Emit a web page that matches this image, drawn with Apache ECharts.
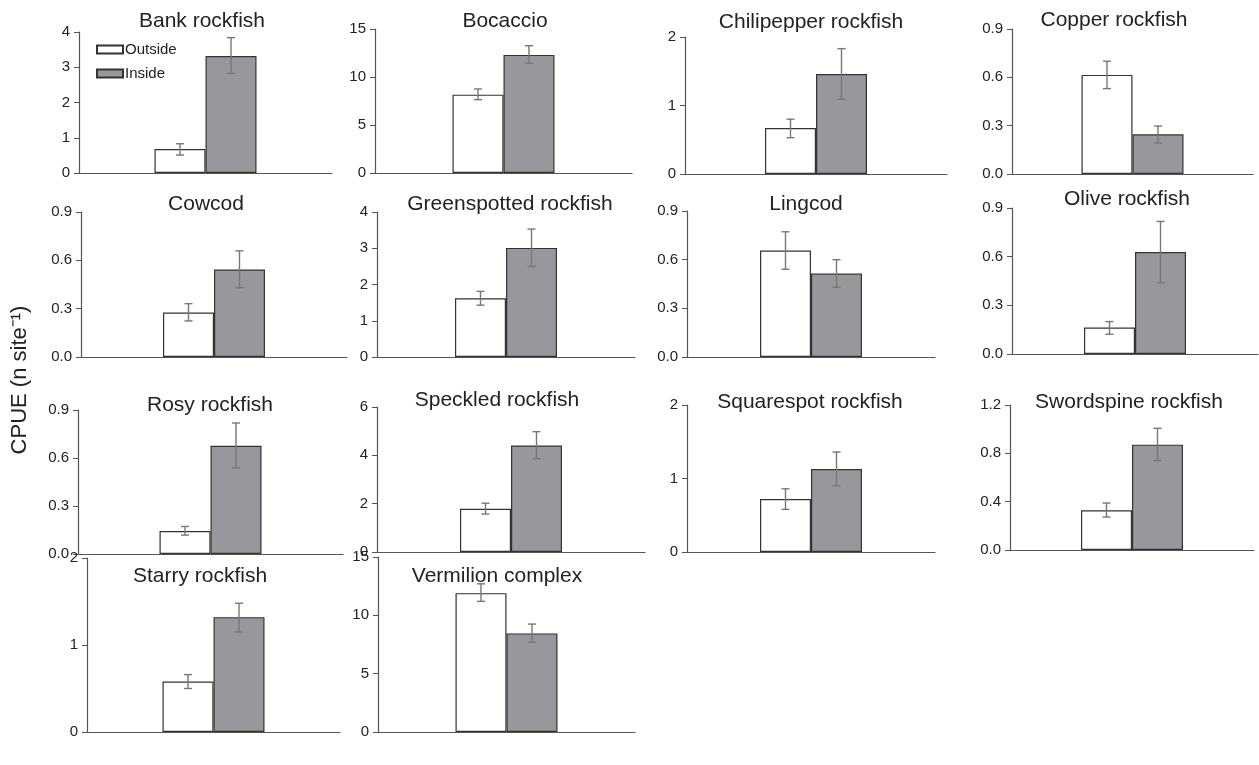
<!DOCTYPE html>
<html><head><meta charset="utf-8">
<script src="https://cdn.jsdelivr.net/npm/echarts@6/dist/echarts.min.js"></script>
<style>html,body{margin:0;padding:0;background:#fff}#c{width:1259px;height:765px}</style>
</head><body><div id="c"></div>
<script>
// ---- data ----
const species = ["Bank rockfish","Bocaccio","Chilipepper rockfish","Copper rockfish",
  "Cowcod","Greenspotted rockfish","Lingcod","Olive rockfish",
  "Rosy rockfish","Speckled rockfish","Squarespot rockfish","Swordspine rockfish",
  "Starry rockfish","Vermilion complex"];
const outsideMean = [0.68, 8.16, 0.67, 0.615, 0.276, 1.62, 0.656, 0.163, 0.143, 1.79, 0.72, 0.328, 0.58, 11.9];
const outsideLow  = [0.51, 7.64, 0.53, 0.53, 0.224, 1.43, 0.541, 0.122, 0.118, 1.57, 0.58, 0.273, 0.50, 11.2];
const outsideHigh = [0.83, 8.75, 0.80, 0.70, 0.331, 1.81, 0.772, 0.20, 0.172, 2.02, 0.86, 0.389, 0.66, 12.7];
const insideMean  = [3.32, 12.3, 1.46, 0.246, 0.543, 3.01, 0.514, 0.628, 0.677, 4.41, 1.13, 0.872, 1.32, 8.45];
const insideLow   = [2.83, 11.43, 1.09, 0.192, 0.43, 2.50, 0.43, 0.439, 0.538, 3.86, 0.90, 0.739, 1.15, 7.7];
const insideHigh  = [3.84, 13.26, 1.83, 0.298, 0.659, 3.53, 0.60, 0.817, 0.819, 4.98, 1.36, 1.007, 1.48, 9.25];
const yMax      = [4, 15, 2, 0.9, 0.9, 4, 0.9, 0.9, 0.9, 6, 2, 1.2, 2, 15];
const yInterval = [1, 5, 1, 0.3, 0.3, 1, 0.3, 0.3, 0.3, 2, 1, 0.4, 1, 5];
const yDecimals = [0, 0, 0, 1, 1, 0, 1, 1, 1, 0, 0, 1, 0, 0];
const groups = ["Outside", "Inside"];
const yTitle = "CPUE (n site\u207B\u00B9)";

// ---- layout (pixels): grid left, top, width, height, title centre x, title top ----
const layout = [
  [79, 32, 253, 141, 202, 11], [375, 29, 257, 144, 505, 11], [685, 37, 262, 137, 811, 12], [1012, 29, 241, 145, 1114, 10],
  [81, 212, 266, 145, 206, 194], [377, 212, 258, 145, 510, 194], [687, 211, 248, 146, 806, 194], [1012, 208, 246, 146, 1127, 189],
  [78, 410, 265, 144, 210, 395], [377, 407, 268, 145, 497, 390], [687, 405, 248, 147, 810, 392], [1010, 405, 244, 145, 1129, 392],
  [87, 558, 253, 174, 200, 566], [378, 557, 257, 175, 497, 566]
];
const BAR_W = 51;
const AXIS_C = '#555';
const TXT_C = '#222';
const FONT = 'Liberation Sans, Arial, Helvetica, sans-serif';

const grids = [], xAxes = [], yAxes = [], series = [], titles = [];
species.forEach((name, i) => {
  const L = layout[i];
  grids.push({left: L[0], top: L[1], width: L[2], height: L[3], containLabel: false});
  titles.push({text: name, left: L[4], top: L[5], textAlign: 'center', padding: 0,
    textStyle: {fontSize: 21, fontWeight: 'normal', color: TXT_C, fontFamily: FONT}});
  xAxes.push({type: 'category', gridIndex: i, data: [''], boundaryGap: true,
    axisLine: {lineStyle: {color: AXIS_C, width: 1.2}}, axisTick: {show: false}, axisLabel: {show: false}, splitLine: {show: false}});
  const dec = yDecimals[i];
  yAxes.push({type: 'value', gridIndex: i, min: 0, max: yMax[i], interval: yInterval[i],
    axisLine: {show: true, lineStyle: {color: AXIS_C, width: 1.2}},
    axisTick: {show: true, length: 5, lineStyle: {color: AXIS_C}},
    axisLabel: {fontSize: 15, color: TXT_C, margin: 9, fontFamily: FONT, formatter: v => v.toFixed(dec)},
    splitLine: {show: false}});
  series.push({name: groups[0], type: 'bar', xAxisIndex: i, yAxisIndex: i, data: [outsideMean[i]],
    barWidth: BAR_W, barGap: '0%', itemStyle: {color: '#ffffff', borderColor: '#333', borderWidth: 1.2}, silent: true});
  series.push({name: groups[1], type: 'bar', xAxisIndex: i, yAxisIndex: i, data: [insideMean[i]],
    barWidth: BAR_W, barGap: '0%', itemStyle: {color: '#98979c', borderColor: '#333', borderWidth: 1.2}, silent: true});
  series.push({name: 'error ' + i, type: 'custom', xAxisIndex: i, yAxisIndex: i, z: 5, silent: true,
    data: [[0, outsideLow[i], outsideHigh[i], -1], [0, insideLow[i], insideHigh[i], 1]],
    encode: {x: 0, y: [1, 2]},
    renderItem: (params, api) => {
      const side = api.value(3);
      const cx = api.coord([api.value(0), 0])[0] + side * BAR_W / 2;
      const y1 = api.coord([0, api.value(1)])[1];
      const y2 = api.coord([0, api.value(2)])[1];
      const st = {stroke: '#777', lineWidth: 1.4};
      return {type: 'group', children: [
        {type: 'line', shape: {x1: cx, y1: y1, x2: cx, y2: y2}, style: st},
        {type: 'line', shape: {x1: cx - 4, y1: y1, x2: cx + 4, y2: y1}, style: st},
        {type: 'line', shape: {x1: cx - 4, y1: y2, x2: cx + 4, y2: y2}, style: st}
      ]};
    }});
});

const chart = echarts.init(document.getElementById('c'), null, {renderer: 'canvas'});
chart.setOption({
  animation: false,
  backgroundColor: '#fff',
  title: titles,
  legend: {data: groups, left: 96, top: 42, orient: 'vertical', itemWidth: 26, itemHeight: 8, itemGap: 9,
    icon: 'rect', padding: 0, selectedMode: false,
    textStyle: {fontSize: 15, color: TXT_C, fontFamily: FONT, padding: [0, 0, 0, -3]}},
  grid: grids, xAxis: xAxes, yAxis: yAxes, series: series,
  graphic: [{type: 'text', rotation: Math.PI / 2, x: 9, y: 380,
    style: {text: yTitle, fill: TXT_C, font: '22px ' + FONT, align: 'center', verticalAlign: 'top'}}]
});
</script></body></html>
